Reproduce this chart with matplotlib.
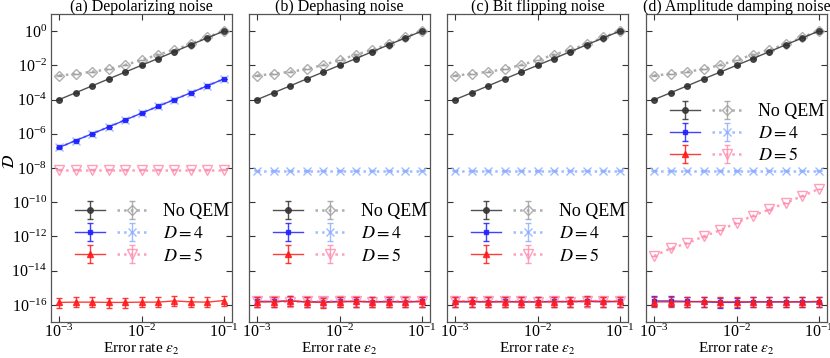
import numpy as np
import matplotlib
matplotlib.use('Agg')
import matplotlib.pyplot as plt
from matplotlib.ticker import NullLocator
from matplotlib.legend_handler import HandlerTuple

plt.rcParams['font.family'] = ['Liberation Serif', 'DejaVu Serif']
plt.rcParams['mathtext.fontset'] = 'stix'

# --- dados ---
eps = [1.0e-3, 1.585e-3, 2.512e-3, 3.981e-3, 6.310e-3, 1.0e-2,
       1.585e-2, 2.512e-2, 3.981e-2, 6.310e-2, 1.0e-1]

titulos = ['(a) Depolarizing noise', '(b) Dephasing noise',
           '(c) Bit flipping noise', '(d) Amplitude damping noise']

# No QEM (linha cheia / pontilhada), igual nos quatro paineis
noqem_cheia = [1.0e-4, 2.5e-4, 6.3e-4, 1.6e-3, 4.0e-3, 1.0e-2,
               2.5e-2, 6.3e-2, 1.6e-1, 4.0e-1, 1.0]
noqem_pont = [2.5e-3, 3.2e-3, 4.2e-3, 6.0e-3, 1.05e-2, 2.0e-2,
              4.2e-2, 8.0e-2, 1.8e-1, 4.3e-1, 1.05]

# D = 4, linha cheia, por painel
d4_cheia = [
    [1.6e-7, 4.0e-7, 1.0e-6, 2.5e-6, 6.3e-6, 1.6e-5, 4.0e-5, 1.0e-4, 2.5e-4, 6.3e-4, 1.6e-3],
    [1.6e-16, 1.6e-16, 1.7e-16, 1.5e-16, 1.5e-16, 1.6e-16, 1.6e-16, 1.5e-16, 1.6e-16, 1.5e-16, 1.6e-16],
    [1.5e-16, 1.5e-16, 1.5e-16, 1.6e-16, 1.5e-16, 1.5e-16, 1.6e-16, 1.5e-16, 1.6e-16, 1.5e-16, 1.6e-16],
    [1.7e-16, 1.7e-16, 1.6e-16, 1.5e-16, 1.4e-16, 1.4e-16, 1.5e-16, 1.5e-16, 1.5e-16, 1.5e-16, 1.5e-16],
]
# D = 4, pontilhada
d4_pont = [
    [1.6e-7, 4.0e-7, 1.0e-6, 2.5e-6, 6.3e-6, 1.6e-5, 4.0e-5, 1.0e-4, 2.5e-4, 6.3e-4, 1.6e-3],
    [7.0e-9] * 11,
    [7.0e-9] * 11,
    [7.0e-9] * 11,
]
# D = 5, linha cheia
d5_cheia = [
    [1.4e-16, 1.45e-16, 1.45e-16, 1.4e-16, 1.4e-16, 1.45e-16, 1.45e-16, 1.7e-16, 1.5e-16, 1.45e-16, 1.8e-16],
    [1.5e-16, 1.5e-16, 1.7e-16, 1.5e-16, 1.4e-16, 1.5e-16, 1.6e-16, 1.5e-16, 1.5e-16, 1.5e-16, 1.6e-16],
    [1.6e-16, 1.6e-16, 1.5e-16, 1.5e-16, 1.5e-16, 1.5e-16, 1.5e-16, 1.6e-16, 1.7e-16, 1.6e-16, 1.6e-16],
    [1.5e-16, 1.5e-16, 1.5e-16, 1.6e-16, 1.5e-16, 1.5e-16, 1.5e-16, 1.5e-16, 1.5e-16, 1.5e-16, 1.6e-16],
]
# D = 5, pontilhada
d5_pont = [
    [8.0e-9] * 11,
    [1.6e-16, 1.6e-16, 1.5e-16, 1.6e-16, 1.6e-16, 1.7e-16, 1.6e-16, 1.5e-16, 1.6e-16, 1.6e-16, 1.6e-16],
    [1.6e-16, 1.5e-16, 1.6e-16, 1.6e-16, 1.6e-16, 1.5e-16, 1.6e-16, 1.5e-16, 1.6e-16, 1.6e-16, 1.6e-16],
    [7.2e-14, 2.0e-13, 4.0e-13, 1.0e-12, 2.3e-12, 6.3e-12, 1.6e-11, 3.8e-11, 9.3e-11, 2.3e-10, 6.0e-10],
]

# barras de erro relativas (abaixo, acima) para os pontos ~1e-16
erro_chao = (0.5, 0.9)
erro_topo = (0.03, 0.03)

# --- estilos ---
estilos = {
    'noqem_cheia': dict(color='#333333', ls='-', lw=1.0, marker='o', ms=4, mfc='#333333'),
    'noqem_pont': dict(color='#a0a0a0', ls=':', lw=1.8, marker='D', ms=5.5, mfc='none', mew=1.0),
    'd4_cheia': dict(color='#2020ff', ls='-', lw=1.0, marker='s', ms=3.2, mfc='#2020ff'),
    'd4_pont': dict(color='#8fb0ff', ls=':', lw=1.8, marker='x', ms=6, mew=1.0),
    'd5_cheia': dict(color='#ff1a1a', ls='-', lw=1.0, marker='^', ms=4.5, mfc='#ff1a1a'),
    'd5_pont': dict(color='#ff8fb0', ls=':', lw=1.8, marker='v', ms=6.5, mfc='none', mew=1.0),
}


def barras(y):
    y = np.asarray(y)
    baixo = np.where(y < 1e-14, erro_chao[0], erro_topo[0]) * y
    cima = np.where(y < 1e-14, erro_chao[1], erro_topo[1]) * y
    return [baixo, cima]


def desenhar(ax, y, nome, z):
    st = estilos[nome]
    return ax.errorbar(eps, y, yerr=barras(y), capsize=2.5, elinewidth=1.0,
                       capthick=1.0, alpha=0.85, zorder=z, **st)


fig = plt.figure(figsize=(8.3, 3.58), dpi=100)
largura = 181 / 830
altura = 308 / 358
esquerdas = [51, 249, 447, 646]

for i in range(4):
    ax = fig.add_axes([esquerdas[i] / 830, 1 - 322 / 358, largura, altura])
    ax.set_xscale('log')
    ax.set_yscale('log')

    h_nc = desenhar(ax, noqem_cheia, 'noqem_cheia', 3)
    h_np = desenhar(ax, noqem_pont, 'noqem_pont', 2)
    h_4p = desenhar(ax, d4_pont[i], 'd4_pont', 4)
    h_4c = desenhar(ax, d4_cheia[i], 'd4_cheia', 5)
    h_5p = desenhar(ax, d5_pont[i], 'd5_pont', 6)
    h_5c = desenhar(ax, d5_cheia[i], 'd5_cheia', 7)

    ax.set_xlim(10 ** -3.1, 10 ** -0.9)
    ax.set_ylim(1e-17, 1e1)
    ax.set_xticks([1e-3, 1e-2, 1e-1])
    ax.set_yticks([10.0 ** k for k in range(0, -17, -2)])
    ax.xaxis.set_minor_locator(NullLocator())
    ax.yaxis.set_minor_locator(NullLocator())
    ax.tick_params(direction='in', top=True, right=True, length=4, width=0.8,
                   labelsize=11.5, colors='#333333', labelcolor='black', pad=3)
    ax.tick_params(axis='x', pad=1.5)
    if i > 0:
        ax.tick_params(labelleft=False)
    for s in ax.spines.values():
        s.set_color('#555555')
        s.set_linewidth(0.9)

    ax.set_title(titulos[i], fontsize=11.5, pad=2)
    ax.set_xlabel(r'Error rate $\varepsilon_2$', fontsize=11, labelpad=-0.3)
    if i == 0:
        ax.set_ylabel(r'$\mathcal{D}$', fontsize=12)
        ax.yaxis.set_label_coords(-0.185, 0.52)

    ancora = (0.13, 0.71) if i == 3 else (0.13, 0.385)
    ax.legend([(h_nc, h_np), (h_4c, h_4p), (h_5c, h_5p)],
              ['No QEM', '$D=4$', '$D=5$'],
              handler_map={tuple: HandlerTuple(ndivide=None, pad=0.66)},
              loc='upper left', bbox_to_anchor=ancora, frameon=False,
              fontsize=13, handlelength=4.05, handletextpad=0.83,
              labelspacing=0.28, borderpad=0, borderaxespad=0)

fig.savefig('out.png', dpi=100)
